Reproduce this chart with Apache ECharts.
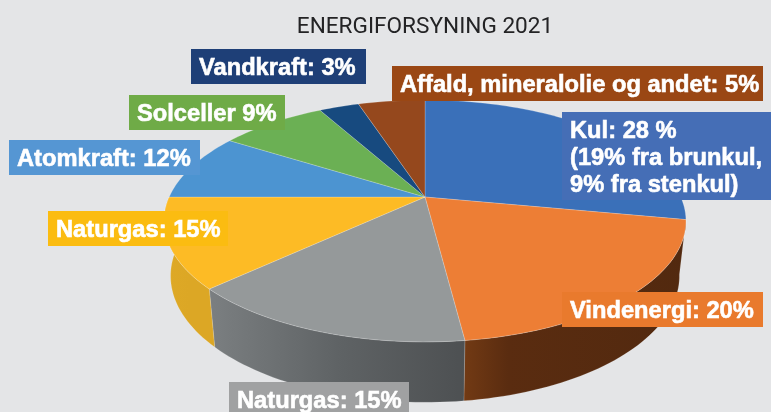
<!DOCTYPE html>
<html>
<head>
<meta charset="utf-8">
<style>
  html, body { margin: 0; padding: 0; background: #e4e5e7; }
  #chart { width: 771px; height: 412px; }
</style>
<script src="https://cdn.jsdelivr.net/npm/echarts@6/dist/echarts.min.js"></script>
</head>
<body>
<div id="chart"></div>
<script>
// slice sizes as they are drawn in the picture, clockwise from 12 o'clock
const sliceNames = ['Kul', 'Vindenergi', 'Naturgas (graa)', 'Naturgas', 'Atomkraft', 'Solceller', 'Vandkraft', 'Affald'];
const sliceValues = [28, 20, 15, 12, 9, 8, 3, 5];
const labelTexts = [
  'Kul: 28 %\n(19% fra brunkul,\n9% fra stenkul)',
  'Vindenergi: 20%',
  'Naturgas: 15%',
  'Naturgas: 15%',
  'Atomkraft: 12%',
  'Solceller 9%',
  'Vandkraft: 3%',
  'Affald, mineralolie og andet: 5%'
];

const topColors = ['#3a70b9', '#ed7e35', '#95999a', '#fdbb25', '#4c94d1', '#6bb054', '#174a7f', '#95481d'];
const wallColors = [null, ['#723a14', '#5a2c10', '#52290f'], ['#7b7f81', '#5f6365', '#4d5052'], ['#dea926', '#dca725', '#dca725']];
const boxColors = ['#456eb6', '#e97a2d', '#a0a1a2', '#fbbc11', '#5596d3', '#6fab47', '#1e3f77', '#9a4714'];
// left, top, right, bottom of each label box
const boxes = [
  [562, 112, 771, 200], [562, 292, 763, 327], [229, 382, 409, 412], [48, 211, 228, 246],
  [9, 140, 200, 175], [129, 95, 285, 130], [191, 49, 366, 84], [392, 66, 763, 101]
];

// pie projection: apex of the pie and tilt of the circle
const apexX = 425, apexY = 197, radX = 255.8, radY = 116.2, persp = 0.198;
const total = sliceValues.reduce((a, b) => a + b, 0);
const startDeg = [];
sliceValues.reduce((sum, v, i) => { startDeg[i] = sum / total * 360; return sum + v; }, 0);

function rimTop(deg) {
  const t = deg * Math.PI / 180;
  const w = 1 + persp * Math.cos(t);
  return [apexX + radX * Math.sin(t) / w, apexY - radY * Math.cos(t) / w];
}
function rimBottom(deg) {
  const p = rimTop(deg);
  return [apexX + (p[0] - apexX) * 0.975, 276 + (p[1] - 221) * 1.045];
}
function arcPoints(fn, from, to) {
  const pts = [];
  const n = Math.max(2, Math.ceil((to - from) / 1.5));
  for (let i = 0; i <= n; i++) pts.push(fn(from + (to - from) * i / n));
  return pts;
}

function renderWall(params, api) {
  const i = params.dataIndex;
  const from = Math.max(startDeg[i], 100.8);
  const to = Math.min(startDeg[i] + api.value(0) / total * 360, 270);
  if (!wallColors[i] || to <= from) return { type: 'group', children: [] };
  const pts = arcPoints(rimTop, from, to).concat(arcPoints(rimBottom, from, to).reverse());
  return {
    type: 'polygon',
    shape: { points: pts },
    style: {
      // the orange wall runs right to left, its light end sits at the grey slice
      fill: new echarts.graphic.LinearGradient(i === 1 ? 1 : 0, 0, i === 1 ? 0.0 : 1, 0, [
        { offset: 0, color: i === 1 ? wallColors[i][2] : wallColors[i][0] },
        { offset: i === 1 ? 0.8 : 0.5, color: wallColors[i][1] },
        { offset: 1, color: i === 1 ? wallColors[i][0] : wallColors[i][2] }
      ]),
      stroke: 'rgba(255,255,255,0.25)',
      lineWidth: 0.6
    },
    silent: true
  };
}

function renderTop(params, api) {
  const i = params.dataIndex;
  const from = startDeg[i];
  const to = from + api.value(0) / total * 360;
  return {
    type: 'polygon',
    shape: { points: [[apexX, apexY]].concat(arcPoints(rimTop, from, to)) },
    style: { fill: topColors[i], stroke: 'rgba(255,255,255,0.3)', lineWidth: 0.7 },
    silent: true
  };
}

const labelFont = 'bold 23.7px "Liberation Sans", Arial, sans-serif';
const labelEls = [];
labelTexts.forEach(function (txt, i) {
  const b = boxes[i];
  labelEls.push({
    type: 'rect', z: 10, silent: true,
    shape: { x: b[0], y: b[1], width: b[2] - b[0], height: b[3] - b[1] },
    style: { fill: boxColors[i] }
  });
  labelEls.push({
    type: 'text', z: 11, silent: true,
    x: b[0] + 8, y: b[1] + 6,
    style: { text: txt, font: labelFont, lineHeight: 27, fill: '#fff', stroke: '#fff', lineWidth: 0.6 }
  });
});

const chart = echarts.init(document.getElementById('chart'), null, { renderer: 'canvas' });
chart.setOption({
  animation: false,
  backgroundColor: '#e4e5e7',
  title: {
    text: 'ENERGIFORSYNING 2021',
    left: 420,
    top: 11,
    textAlign: 'center',
    textStyle: { color: '#232325', fontSize: 22.6, fontWeight: 'normal', fontFamily: 'Roboto, sans-serif' }
  },
  series: [
    { type: 'custom', name: 'sider', coordinateSystem: 'none', z: 1, renderItem: renderWall,
      data: sliceValues.map((v, i) => ({ name: sliceNames[i], value: [v] })) },
    { type: 'custom', name: 'top', coordinateSystem: 'none', z: 2, renderItem: renderTop,
      data: sliceValues.map((v, i) => ({ name: sliceNames[i], value: [v] })) }
  ],
  graphic: { elements: labelEls }
});
</script>
</body>
</html>
